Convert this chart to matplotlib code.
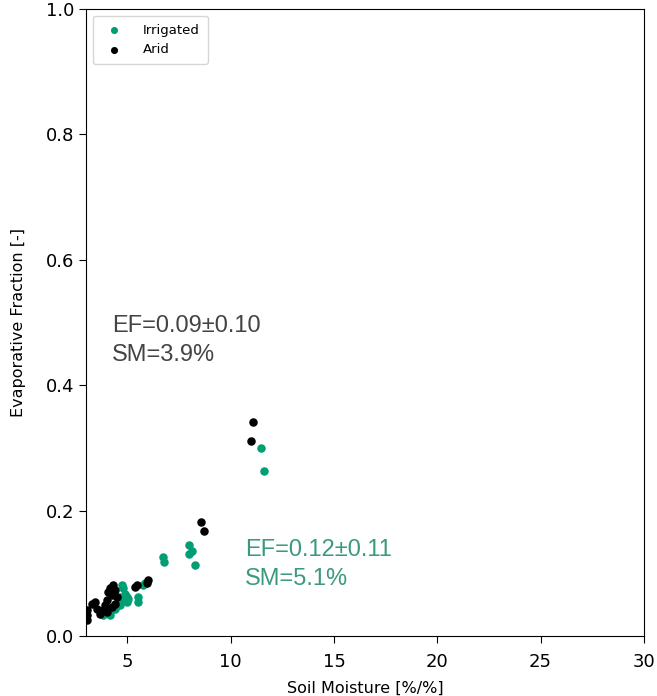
import numpy as np
import matplotlib
matplotlib.use("Agg")
import matplotlib.pyplot as plt

# ── data ────────────────────────────────────────────────────
irr_sm = [3.84, 4.0, 4.16, 4.32, 4.4, 4.56, 4.65, 4.73, 4.81, 4.89, 4.97, 4.81,
          4.65, 4.16, 5.0, 5.05, 5.53, 5.53, 5.78, 5.86, 6.7, 6.75, 8.0, 7.97,
          8.15, 8.25, 11.45, 11.6]
irr_ef = [0.033, 0.044, 0.041, 0.044, 0.044, 0.053, 0.063, 0.081, 0.076, 0.068,
          0.063, 0.057, 0.049, 0.033, 0.055, 0.060, 0.063, 0.055, 0.081, 0.084,
          0.127, 0.119, 0.145, 0.131, 0.136, 0.113, 0.300, 0.263]

arid_sm = [3.03, 3.03, 3.03, 3.27, 3.44, 3.51, 3.68, 3.84, 3.92, 4.0, 4.08, 4.16,
           4.24, 4.32, 4.4, 4.48, 4.4, 4.24, 4.0, 5.37, 5.45, 5.94, 6.02,
           8.58, 8.69, 10.97, 11.1]
arid_ef = [0.041, 0.033, 0.026, 0.052, 0.055, 0.044, 0.036, 0.041, 0.049, 0.057,
           0.071, 0.076, 0.065, 0.081, 0.073, 0.063, 0.052, 0.047, 0.039, 0.079,
           0.081, 0.084, 0.089, 0.182, 0.167, 0.311, 0.341]

irr_label = "EF=0.12\u00b10.11\nSM=5.1%"
arid_label = "EF=0.09\u00b10.10\nSM=3.9%"

GREEN = "#009E73"

fig = plt.figure(figsize=(6.57, 6.96), dpi=100)
ax = fig.add_axes([0.131, 0.086, 0.849, 0.901])

ax.scatter(irr_sm, irr_ef, s=26, color=GREEN, label="Irrigated", zorder=3)
ax.scatter(arid_sm, arid_ef, s=26, color="black", label="Arid", zorder=3)

ax.set_xlim(3, 30)
ax.set_ylim(0, 1.0)
ax.set_xticks([5, 10, 15, 20, 25, 30])
ax.set_yticks([0.0, 0.2, 0.4, 0.6, 0.8, 1.0])
ax.tick_params(labelsize=13, length=5)
ax.tick_params(axis="x", pad=7)
ax.set_xlabel("Soil Moisture [%/%]", fontsize=11.5, labelpad=7)
ax.set_ylabel("Evaporative Fraction [-]", fontsize=11.5, labelpad=14)

ax.text(4.27, 0.512, arid_label, color="#444444", fontsize=17,
        family="Liberation Sans", va="top", ha="left", linespacing=1.4)
ax.text(10.7, 0.155, irr_label, color="#3a9a80", fontsize=17,
        family="Liberation Sans", va="top", ha="left", linespacing=1.4)

ax.legend(loc="upper left", fontsize=9.5, markerscale=0.8, handletextpad=1.2,
          borderpad=0.6)

fig.savefig("out.png", dpi=100)
